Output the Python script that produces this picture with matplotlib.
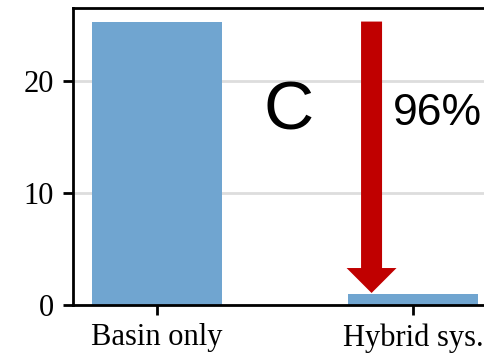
#!/usr/bin/env python3
"""Basin only vs hybrid system, bar chart with reduction arrow."""
import matplotlib

matplotlib.use("Agg")
import matplotlib.pyplot as plt

categories = ["Basin only", "Hybrid sys."]
values = [25.3, 1.0]
yticks = [0, 10, 20]
panel_label = "C"

BAR_COLOR = "#70a5d0"
ARROW_COLOR = "#c00000"

fig = plt.figure(figsize=(4.85, 3.53), dpi=100)
ax = fig.add_axes([0.1515, 0.136, 0.8485, 0.841])

xs = list(range(len(categories)))
ax.bar(xs, values, width=0.51, color=BAR_COLOR, zorder=2)

ax.set_xlim(-0.326, 1.281)
ax.set_ylim(0, 26.5)
ax.set_yticks(yticks)
ax.set_xticks(xs)
ax.set_xticklabels(categories)
ax.yaxis.grid(True, color="#dddddd", linewidth=2, zorder=0)
ax.set_axisbelow(True)

for s in ["left", "top", "bottom"]:
    ax.spines[s].set_linewidth(2)
ax.spines["right"].set_visible(False)
ax.tick_params(axis="both", length=7, width=2, labelsize=22)
ax.tick_params(axis="y", pad=7)
ax.tick_params(axis="x", pad=6)
for lab in ax.get_xticklabels() + ax.get_yticklabels():
    lab.set_fontfamily("Liberation Serif")

# arrow from basin level down to hybrid level
start, end = values[0], values[1]
ax.arrow(0.838, start, 0, (end + 0.07) - start, width=0.082, head_width=0.195,
         head_length=2.23, length_includes_head=True, color=ARROW_COLOR,
         linewidth=0, zorder=3)

pct = round((1 - values[1] / values[0]) * 100)
ax.text(0.514, 17.3, panel_label, fontsize=50, fontfamily="Liberation Sans",
        ha="center", va="center")
ax.text(1.094, 17.05, f"{pct}%", fontsize=32, fontfamily="Liberation Sans",
        ha="center", va="center")

fig.savefig("out.png", dpi=100)
